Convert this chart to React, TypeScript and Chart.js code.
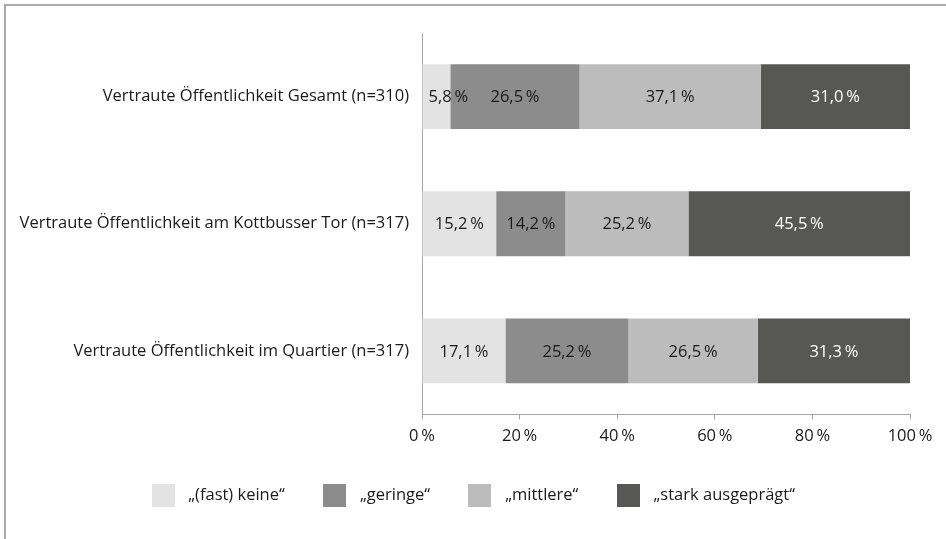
import React, { useEffect, useRef } from "react";
import { Chart, registerables } from "chart.js";

Chart.register(...registerables);

const categories = [
  "Vertraute Öffentlichkeit Gesamt (n=310)",
  "Vertraute Öffentlichkeit am Kottbusser Tor (n=317)",
  "Vertraute Öffentlichkeit im Quartier (n=317)",
];
const seriesNames = ["„(fast) keine“", "„geringe“", "„mittlere“", "„stark ausgeprägt“"];
const fastKeine = [5.8, 15.2, 17.1];
const geringe = [26.5, 14.2, 25.2];
const mittlere = [37.1, 25.2, 26.5];
const starkAusgepraegt = [31.0, 45.5, 31.3];
const xMin = 0;
const xMax = 100;
const xStep = 20;

const seriesColors = ["#e3e3e3", "#8c8c8c", "#bbbcbb", "#575756"];
const labelColors = ["#1a1a1a", "#1a1a1a", "#1a1a1a", "#ffffff"];
const FONT = "'Open Sans'";
const FSIZE = 16.5;
const axisColor = "#a6a6a6";
const textColor = "#1a1a1a";

const fmt = (v: number, digits: number) => v.toFixed(digits).replace(".", ",") + "\u2009%";

const dataLabelPlugin = {
  id: "segmentLabels",
  afterDatasetsDraw(chart: any) {
    const ctx = chart.ctx;
    ctx.save();
    ctx.font = `${FSIZE}px ${FONT}`;
    ctx.textBaseline = "middle";
    ctx.textAlign = "center";
    chart.data.datasets.forEach((ds: any, di: number) => {
      const meta = chart.getDatasetMeta(di);
      meta.data.forEach((bar: any, i: number) => {
        const v = ds.data[i];
        const txt = fmt(v, 1);
        const w = ctx.measureText(txt).width;
        const start = Math.min(bar.base, bar.x);
        const end = Math.min(Math.max(bar.base, bar.x), chart.chartArea.right);
        let cx = (start + end) / 2;
        if (w + 12 > end - start) cx = start + 6 + w / 2;
        ctx.fillStyle = labelColors[di];
        ctx.fillText(txt, cx, bar.y + 1);
      });
    });
    ctx.restore();
  },
};

export default function App() {
  const ref = useRef<HTMLCanvasElement | null>(null);
  useEffect(() => {
    if (!ref.current) return;
    const swatches = seriesColors.map((c) => {
      const s = document.createElement("canvas");
      s.width = 23;
      s.height = 23;
      const sc = s.getContext("2d")!;
      sc.fillStyle = c;
      sc.fillRect(0, 0, 23, 23);
      return s;
    });
    const defGen = (Chart as any).defaults.plugins.legend.labels.generateLabels;
    const seriesData = [fastKeine, geringe, mittlere, starkAusgepraegt];
    const chart = new Chart(ref.current, {
      type: "bar",
      data: {
        labels: categories,
        datasets: seriesData.map((d, i) => ({
          label: seriesNames[i],
          data: d,
          backgroundColor: seriesColors[i],
          borderWidth: 0,
          categoryPercentage: 1,
          barPercentage: 0.51,
        })),
      },
      options: {
        indexAxis: "y",
        animation: false,
        responsive: false,
        devicePixelRatio: 1,
        layout: { padding: { top: 33, left: 0, right: 5, bottom: 25.5 } },
        font: { family: FONT, size: FSIZE },
        scales: {
          x: {
            stacked: true,
            min: xMin,
            max: xMax,
            ticks: {
              stepSize: xStep,
              color: textColor,
              font: { family: FONT, size: FSIZE },
              padding: 7,
              callback: (v: any) => fmt(Number(v), 0),
            },
            grid: {
              display: true,
              drawOnChartArea: false,
              drawTicks: true,
              tickLength: 5,
              color: axisColor,
            },
            border: { display: true, color: axisColor, width: 1 },
            afterFit: (s: any) => {
              s.height = 39.5;
              s.paddingRight = 36;
            },
          },
          y: {
            stacked: true,
            ticks: {
              color: textColor,
              font: { family: FONT, size: FSIZE },
              padding: 13,
            },
            grid: { display: false, drawTicks: false },
            border: { display: true, color: axisColor, width: 1 },
            afterFit: (s: any) => {
              s.width = 422;
            },
          },
        },
        plugins: {
          tooltip: { enabled: false },
          legend: {
            position: "bottom",
            labels: {
              usePointStyle: true,
              pointStyleWidth: 34,
              padding: 33,
              color: textColor,
              font: { family: FONT, size: FSIZE },
              generateLabels: (c: any) =>
                defGen(c).map((it: any) => ({ ...it, pointStyle: swatches[it.datasetIndex], lineWidth: 0 })),
            },
          },
        },
      } as any,
      plugins: [dataLabelPlugin],
    });
    return () => chart.destroy();
  }, []);

  return (
    <div style={{ position: "fixed", left: 0, top: 0, width: 946, height: 539, background: "#fff", overflow: "hidden" }}>
      <div
        style={{
          position: "absolute",
          left: 4,
          top: 4,
          width: 960,
          height: 560,
          borderTop: "2px solid #aaaaaa",
          borderLeft: "2px solid #aaaaaa",
          boxSizing: "border-box",
        }}
      />
      <canvas ref={ref} width={946} height={539} style={{ position: "absolute", left: 0, top: 0 }} />
    </div>
  );
}
